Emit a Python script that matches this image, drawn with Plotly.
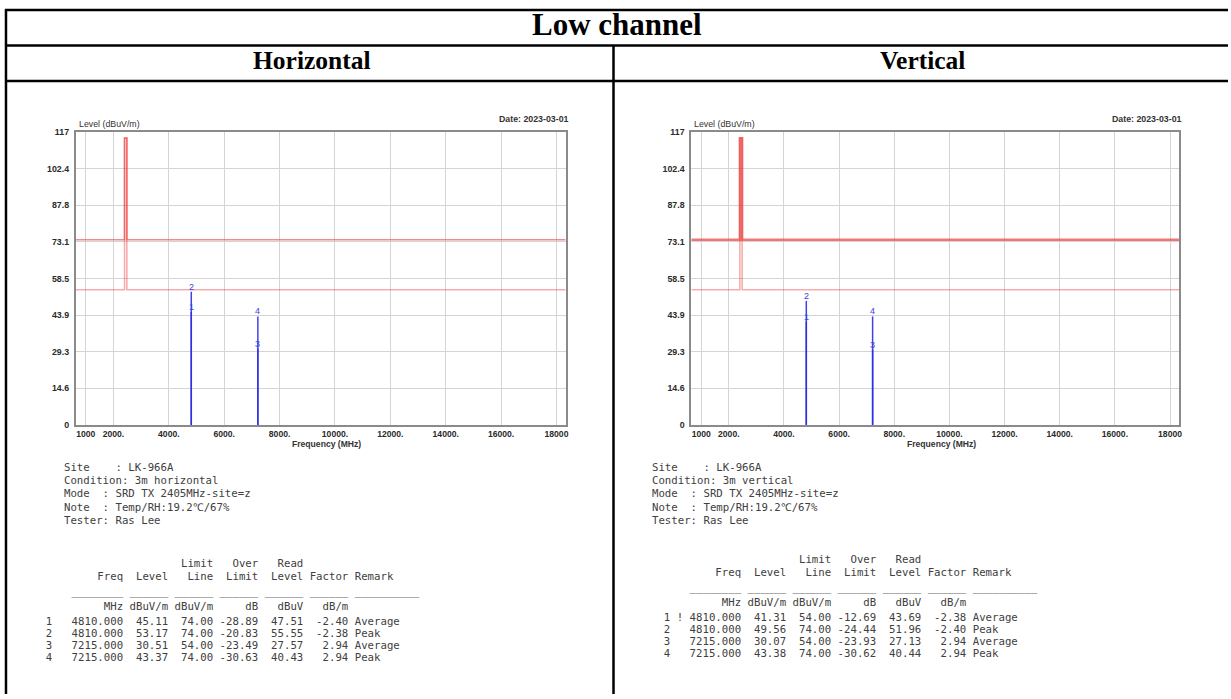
import plotly.graph_objects as go

W, H = 1231, 699

# ---------------- data ----------------
freq_ticks = [1000, 2000, 4000, 6000, 8000, 10000, 12000, 14000, 16000, 18000]
freq_ticktext = ["1000", "2000.", "4000.", "6000.", "8000.", "10000.", "12000.", "14000.", "16000.", "18000"]
level_ticks = [0, 14.625, 29.25, 43.875, 58.5, 73.125, 87.75, 102.375, 117]
level_ticktext = ["0", "14.6", "29.3", "43.9", "58.5", "73.1", "87.8", "102.4", "117"]

limit_freq = [640, 2400, 2400, 2483.5, 2483.5, 18330]
peak_limit = [74, 74, 114.6, 114.6, 74, 74]
avg_limit = [54, 54, 114.6, 114.6, 54, 54]

marker_ids = ["1", "2", "3", "4"]
marker_freq = [4810.0, 4810.0, 7215.0, 7215.0]
remarks = ["Average", "Peak", "Average", "Peak"]

h_level = [45.11, 53.17, 30.51, 43.37]
h_limit = [74.00, 74.00, 54.00, 74.00]
h_over = [-28.89, -20.83, -23.49, -30.63]
h_read = [47.51, 55.55, 27.57, 40.43]
h_factor = [-2.40, -2.38, 2.94, 2.94]
h_flag = [" ", " ", " ", " "]

v_level = [41.31, 49.56, 30.07, 43.38]
v_limit = [54.00, 74.00, 54.00, 74.00]
v_over = [-12.69, -24.44, -23.93, -30.62]
v_read = [43.69, 51.96, 27.13, 40.44]
v_factor = [-2.38, -2.40, 2.94, 2.94]
v_flag = ["!", " ", " ", " "]

title_text = "Low channel"
pol_titles = ["Horizontal", "Vertical"]
conditions = ["3m horizontal", "3m vertical"]
date_text = "Date: 2023-03-01"

# ---------------- helpers ----------------
def fx(x):
    return x / W

def fy(y):
    return 1 - y / H

def nb(s):
    return s.replace(" ", "\u00a0")

fig = go.Figure()

MONO = "DejaVu Sans Mono"
SANS = "Liberation Sans, Arial"
SERIF = "Liberation Serif, Times New Roman"

panels = [
    dict(x0=76, x1=567, levels=h_level, limit=h_limit, over=h_over, read=h_read,
         factor=h_factor, flag=h_flag, cond=conditions[0], text_x=62, tab_x=31, tab_dy=4,
         up_w=1.6, up_a=0.6),
    dict(x0=693, x1=1182, levels=v_level, limit=v_limit, over=v_over, read=v_read,
         factor=v_factor, flag=v_flag, cond=conditions[1], text_x=652, tab_x=651, tab_dy=0,
         up_w=2.4, up_a=0.7),
]

y_top, y_bot = 129, 426
annotations = []
shapes = []

for k, p in enumerate(panels):
    xa = "x" if k == 0 else "x2"
    ya = "y" if k == 0 else "y2"
    axis_common_x = dict(
        range=[640, 18330], tickvals=freq_ticks, ticktext=freq_ticktext,
        showgrid=True, gridcolor="#d4d4d4", gridwidth=1, zeroline=False,
        showline=True, mirror=True, linecolor="#8a8a8a", linewidth=2,
        ticks="", ticklabelstandoff=0,
        tickfont=dict(family=SANS, size=8.6, color="#2a2a2a", weight="bold"),
        domain=[fx(p["x0"]), fx(p["x1"])], anchor=ya, fixedrange=True,
    )
    axis_common_y = dict(
        range=[0, 117], tickvals=level_ticks, ticktext=level_ticktext,
        showgrid=True, gridcolor="#d4d4d4", gridwidth=1, zeroline=False,
        showline=True, mirror=True, linecolor="#8a8a8a", linewidth=2,
        ticks="", ticklabelstandoff=3,
        tickfont=dict(family=SANS, size=8.8, color="#2a2a2a", weight="bold"),
        domain=[fy(y_bot), fy(y_top)], anchor=xa, fixedrange=True,
    )
    if k == 0:
        fig.update_layout(xaxis=axis_common_x, yaxis=axis_common_y)
    else:
        fig.update_layout(xaxis2=axis_common_x, yaxis2=axis_common_y)

    # limit lines
    fig.add_trace(go.Scatter(x=limit_freq, y=avg_limit, mode="lines", xaxis=xa, yaxis=ya,
                             line=dict(color="rgba(235,60,60,0.42)", width=1.6),
                             hoverinfo="skip", showlegend=False))
    fig.add_trace(go.Scatter(x=limit_freq, y=peak_limit, mode="lines", xaxis=xa, yaxis=ya,
                             line=dict(color=f"rgba(235,60,60,{p['up_a']})", width=p["up_w"]),
                             hoverinfo="skip", showlegend=False))
    # markers
    for f, lv, mid in zip(marker_freq, p["levels"], marker_ids):
        fig.add_trace(go.Scatter(x=[f, f], y=[0, lv], mode="lines", xaxis=xa, yaxis=ya,
                                 line=dict(color="rgba(45,45,225,0.9)", width=1.5),
                                 hoverinfo="skip", showlegend=False))
        annotations.append(dict(x=f, y=lv, xref=xa, yref=ya, text=mid, showarrow=False,
                                xanchor="center", yanchor="bottom", yshift=-2,
                                font=dict(family=SANS, size=9, color="#4040dd")))

    # chart labels
    annotations.append(dict(x=fx(p["x0"] + 1), y=fy(121), xref="paper", yref="paper",
                            text="Level (dBuV/m)", showarrow=False, xanchor="left", yanchor="middle",
                            font=dict(family=SANS, size=8.8, color="#333")))
    annotations.append(dict(x=fx(p["x1"] + 5), y=fy(116), xref="paper", yref="paper",
                            text=date_text, showarrow=False, xanchor="right", yanchor="middle",
                            font=dict(family=SANS, size=8.8, color="#333", weight="bold")))
    annotations.append(dict(x=fx((p["x0"] + p["x1"]) / 2 + 6), y=fy(445), xref="paper", yref="paper",
                            text="Frequency (MHz)", showarrow=False, xanchor="center", yanchor="middle",
                            borderpad=0,
                            font=dict(family=SANS, size=8.6, color="#333", weight="bold")))

    # info block
    info = [
        "Site    : LK-966A",
        "Condition: " + p["cond"],
        "Mode  : SRD TX 2405MHz-site=z",
        "Note  : Temp/RH:19.2\u2103/67%",
        "Tester: Ras Lee",
    ]
    for i, line in enumerate(info):
        annotations.append(dict(x=fx(p["text_x"]), y=fy(469 + i * 13.5), xref="paper", yref="paper",
                                text=nb(line), showarrow=False, xanchor="left", yanchor="middle",
                                font=dict(family=MONO, size=10.7, color="#404040")))

    hdr1 = " " * 6 + " " * 8 + " " * 7 + "  Limit" + "   Over" + "   Read"
    hdr2 = " " * 6 + "    Freq" + "  Level" + "   Line" + "  Limit" + "  Level" + " Factor" + " Remark"
    under = " " * 6 + "_" * 8 + (" " + "_" * 6) * 5 + " " + "_" * 10
    units = " " * 6 + "     MHz" + " dBuV/m" + " dBuV/m" + "     dB" + "   dBuV" + "   dB/m"
    rows = []
    for i in range(4):
        rows.append(f"{marker_ids[i]:>3} {p['flag'][i]} {marker_freq[i]:8.3f}{p['levels'][i]:7.2f}"
                    f"{p['limit'][i]:7.2f}{p['over'][i]:7.2f}{p['read'][i]:7.2f}{p['factor'][i]:7.2f} {remarks[i]}")
    tab_lines = [(hdr1, 563), (hdr2, 576), (under, 591), (units, 606)] + \
                [(r, 621 + 12.2 * i) for i, r in enumerate(rows)]
    for line, yy in tab_lines:
        annotations.append(dict(x=fx(p["tab_x"]), y=fy(yy + p["tab_dy"]), xref="paper", yref="paper",
                                text=nb(line), showarrow=False, xanchor="left", yanchor="middle",
                                font=dict(family=MONO, size=10.7, color="#404040")))

# table headings
annotations.append(dict(x=fx(619), y=fy(20), xref="paper", yref="paper", text="<b>" + title_text + "</b>",
                        showarrow=False, xanchor="center", yanchor="middle",
                        font=dict(family=SERIF, size=31, color="#000")))
annotations.append(dict(x=fx(313), y=fy(56), xref="paper", yref="paper", text="<b>" + pol_titles[0] + "</b>",
                        showarrow=False, xanchor="center", yanchor="middle",
                        font=dict(family=SERIF, size=25.5, color="#000")))
annotations.append(dict(x=fx(925), y=fy(56), xref="paper", yref="paper", text="<b>" + pol_titles[1] + "</b>",
                        showarrow=False, xanchor="center", yanchor="middle",
                        font=dict(family=SERIF, size=25.5, color="#000")))

# table borders
def hline(y, x0, x1):
    shapes.append(dict(type="line", xref="paper", yref="paper", x0=fx(x0), x1=fx(x1), y0=fy(y), y1=fy(y),
                       line=dict(color="#000", width=2.5)))

def vline(x, y0, y1):
    shapes.append(dict(type="line", xref="paper", yref="paper", x0=fx(x), x1=fx(x), y0=fy(y0), y1=fy(y1),
                       line=dict(color="#000", width=2.5)))

hline(5, 5, 1231)
hline(41, 5, 1231)
hline(77, 5, 1231)
vline(6, 4, 699)
vline(615, 41, 699)

fig.update_layout(
    width=W, height=H, margin=dict(l=0, r=0, t=0, b=0),
    paper_bgcolor="white", plot_bgcolor="white",
    annotations=annotations, shapes=shapes, showlegend=False,
)

fig.write_html("out.html", config={"displayModeBar": False})
